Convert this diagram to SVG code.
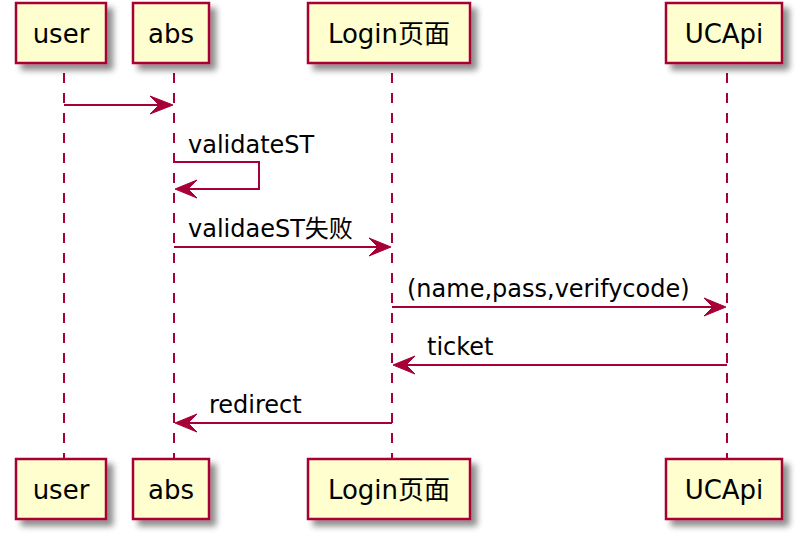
<svg xmlns="http://www.w3.org/2000/svg" width="802" height="536" viewBox="0 0 802 536">
<style>
.box{fill:#FEFECE;stroke:#A80036;stroke-width:2.5;}
.life{stroke:#A80036;stroke-width:2;stroke-dasharray:10,10;fill:none;}
.msg{stroke:#A80036;stroke-width:2;fill:none;}
.head{fill:#A80036;stroke:#A80036;stroke-width:1;}
.pt{font-family:"DejaVu Sans","Noto Sans CJK SC",sans-serif;font-size:26px;fill:#000;}
.ml{font-family:"DejaVu Sans","Noto Sans CJK SC",sans-serif;font-size:24px;fill:#000;}
</style>
<defs>
<filter id="sh" x="-20%" y="-20%" width="150%" height="160%">
<feGaussianBlur in="SourceAlpha" stdDeviation="3" result="b"/>
<feOffset in="b" dx="6" dy="6" result="o"/>
<feComponentTransfer in="o" result="c"><feFuncA type="linear" slope="0.45"/></feComponentTransfer>
<feMerge><feMergeNode in="c"/><feMergeNode in="SourceGraphic"/></feMerge>
</filter>
</defs>
<g id="lifelines">
<line class="life" x1="64" y1="73" x2="64" y2="459"/>
<line class="life" x1="174" y1="73" x2="174" y2="459"/>
<line class="life" x1="392" y1="73" x2="392" y2="459"/>
<line class="life" x1="727" y1="73" x2="727" y2="459"/>
</g>
<g id="user">
<rect class="box" x="16" y="3" width="90" height="60" filter="url(#sh)"/>
<text class="pt" x="61" y="43" text-anchor="middle">user</text>
<rect class="box" x="16" y="459" width="90" height="60" filter="url(#sh)"/>
<text class="pt" x="61" y="499" text-anchor="middle">user</text>
</g>
<g id="abs">
<rect class="box" x="133" y="3" width="76" height="60" filter="url(#sh)"/>
<text class="pt" x="171" y="43" text-anchor="middle">abs</text>
<rect class="box" x="133" y="459" width="76" height="60" filter="url(#sh)"/>
<text class="pt" x="171" y="499" text-anchor="middle">abs</text>
</g>
<g id="login">
<rect class="box" x="308" y="3" width="162" height="60" filter="url(#sh)"/>
<text class="pt" x="389" y="43" text-anchor="middle">Login页面</text>
<rect class="box" x="308" y="459" width="162" height="60" filter="url(#sh)"/>
<text class="pt" x="389" y="499" text-anchor="middle">Login页面</text>
</g>
<g id="ucapi">
<rect class="box" x="666" y="3" width="116" height="60" filter="url(#sh)"/>
<text class="pt" x="724" y="43" text-anchor="middle">UCApi</text>
<rect class="box" x="666" y="459" width="116" height="60" filter="url(#sh)"/>
<text class="pt" x="724" y="499" text-anchor="middle">UCApi</text>
</g>
<g id="connectors">
<line class="msg" x1="64" y1="105" x2="170" y2="105"/>
<polygon class="head" points="150,96 173,105 150,114 159,105"/>

<polyline class="msg" points="174,162 259,162 259,189 178,189"/>
<polygon class="head" points="197,180 175,189 197,198 188,189"/>
<text class="ml" x="188" y="153">validateST</text>

<line class="msg" x1="174" y1="247" x2="388" y2="247"/>
<polygon class="head" points="369,238 391,247 369,256 378,247"/>
<text class="ml" x="188" y="237">validaeST失败</text>

<line class="msg" x1="392" y1="307" x2="723" y2="307"/>
<polygon class="head" points="704,298 726,307 704,316 713,307"/>
<text class="ml" x="407" y="297">(name,pass,verifycode)</text>

<line class="msg" x1="727" y1="365" x2="396" y2="365"/>
<polygon class="head" points="415,356 393,365 415,374 406,365"/>
<text class="ml" x="427" y="355">ticket</text>

<line class="msg" x1="392" y1="423" x2="178" y2="423"/>
<polygon class="head" points="197,414 175,423 197,432 188,423"/>
<text class="ml" x="209" y="413">redirect</text>
</g>
</svg>
